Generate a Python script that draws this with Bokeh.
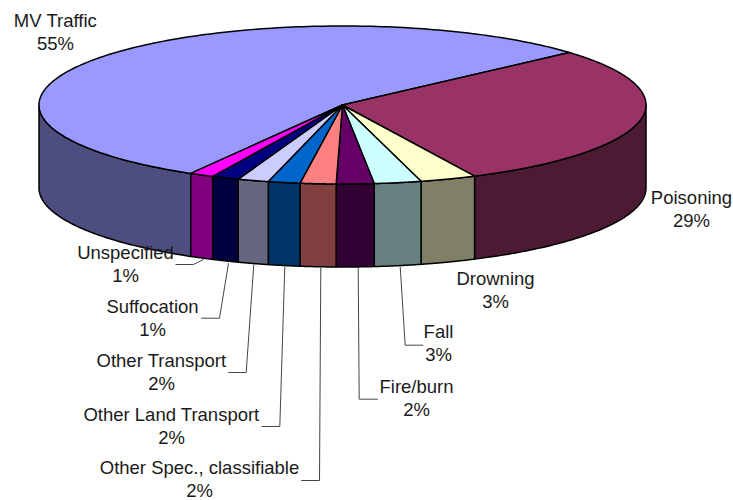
import numpy as np
from bokeh.core.properties import value
from bokeh.embed import file_html
from bokeh.models import Range1d
from bokeh.plotting import figure
from bokeh.resources import INLINE

categories = ["MV Traffic", "Poisoning", "Drowning", "Fall", "Fire/burn",
              "Other Spec., classifiable", "Other Land Transport",
              "Other Transport", "Suffocation", "Unspecified"]
shares = [55.1, 29.4, 3.0, 2.5, 2.0, 1.9, 1.7, 1.65, 1.45, 1.3]
percent_labels = ["55%", "29%", "3%", "3%", "2%", "2%", "2%", "2%", "1%", "1%"]
top_colors = ["#9999FF", "#993366", "#FFFFCC", "#CCFFFF", "#660066",
              "#FF8080", "#0066CC", "#CCCCFF", "#000080", "#FF00FF"]
side_colors = ["#4D4D80", "#4D1A33", "#808066", "#668080", "#330033",
               "#804040", "#003366", "#666680", "#000040", "#800080"]

# layout (page pixels)
CX, CY, RX, RY, DEPTH = 342.0, 104.5, 303.5, 79.0, 83.0
START_DEG = -120.0
FONT = "18.5px"
label_x = [55, 691, 495, 438, 416, 199, 171, 161, 152, 125]
label_y = [19.5, 196.5, 277.5, 330.5, 385.5, 467, 413.5, 359.5, 305.5, 251.5]
LINE_GAP = 23.3
leaders = {
    "Fall": ([422.7, 404.7, 399.7], [344.7, 344.7, 266]),
    "Fire/burn": ([377.3, 358.7, 357.7], [398.7, 398.7, 267]),
    "Other Spec., classifiable": ([300.7, 319, 320.3], [480, 480, 267]),
    "Other Land Transport": ([261, 279.3, 284.3], [426, 426, 266]),
    "Other Transport": ([227.7, 245.7, 253.3], [372, 372, 264]),
    "Suffocation": ([200.7, 219, 228], [317.7, 317.7, 262.7]),
    "Unspecified": ([175, 193, 203], [264, 264, 259]),
}

p = figure(width=733, height=500, x_range=Range1d(0, 733), y_range=Range1d(500, 0),
           x_axis_type=None, y_axis_type=None, toolbar_location=None,
           output_backend="svg", min_border=0, outline_line_color=None)
p.grid.visible = False


def ex(t):
    return CX + RX * np.cos(np.radians(t))


def ey(t):
    return CY - RY * np.sin(np.radians(t))


edges = START_DEG - np.cumsum([0.0] + shares) * 360.0 / sum(shares)
EDGE = dict(line_color="black", line_width=1.5, line_join="round")

# walls: only the part of each slice in the front half is visible
for i in range(len(shares)):
    hi, lo = edges[i], edges[i + 1]
    for shift in (0, 360):
        a, b = max(lo + shift, -180), min(hi + shift, 0)
        if b > a:
            t = np.linspace(a, b, 80)
            xs = np.r_[ex(t), ex(t[::-1])]
            ys = np.r_[ey(t), ey(t[::-1]) + DEPTH]
            p.patch(xs, ys, fill_color=side_colors[i], **EDGE)

# top faces
for i in range(len(shares)):
    t = np.linspace(edges[i], edges[i + 1], 200)
    p.patch(np.r_[CX, ex(t)], np.r_[CY, ey(t)], fill_color=top_colors[i], **EDGE)

for xs, ys in leaders.values():
    p.line(xs, ys, line_color="#444444", line_width=1)

text_style = dict(text_font_size=FONT, text_color="#1a1a1a", text_align="center",
                  text_baseline="middle", text_font=value("Liberation Sans"))
p.text(label_x, label_y, text=categories, **text_style)
p.text(label_x, [y + LINE_GAP for y in label_y], text=percent_labels, **text_style)

open("out.html", "w").write(file_html(p, INLINE))
